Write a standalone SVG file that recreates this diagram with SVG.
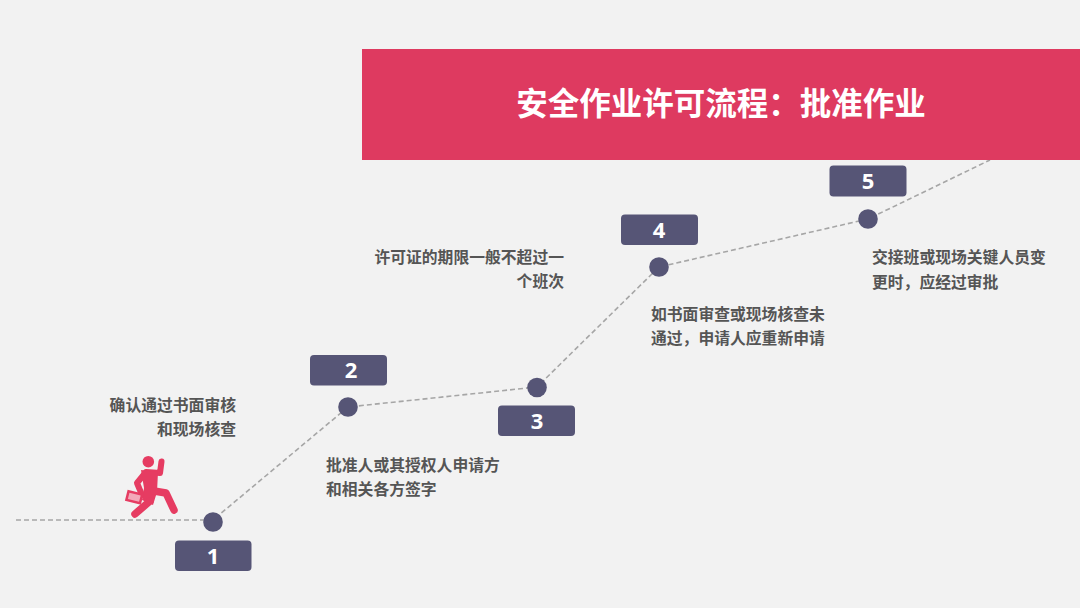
<svg xmlns="http://www.w3.org/2000/svg" width="1080" height="608" viewBox="0 0 1080 608">
<style>
.cn{font-family:"Noto Sans CJK SC","Noto Sans",sans-serif}
.b{fill:#565576}
.n{font-family:"Noto Sans",sans-serif;font-weight:700;font-size:22px;fill:#fff;text-anchor:middle}
.t{font-size:15.800px;font-weight:700;fill:#555}
.e{text-anchor:end}
.c{fill:none;stroke:#a6a6a6;stroke-width:1.6;stroke-dasharray:5 3}
.p{fill:none;stroke:#e63c62;stroke-linecap:round;stroke-linejoin:round}
</style>
<rect width="1080" height="608" fill="#f2f2f2"/>
<g id="connectors">
<polyline class="c" points="16,520 213,520 348,407 537,387 659,267 868,219 990,160"/>
</g>
<g id="banner">
<rect x="362" y="49" width="718" height="111" fill="#de3a60"/>
<text class="cn" x="721" y="115" font-size="31.500" font-weight="700" fill="#fff" text-anchor="middle">安全作业许可流程：批准作业</text>
</g>
<g id="runner">
<circle cx="148.300" cy="461.700" r="5.800" fill="#e63c62"/>
<path class="p" stroke-width="6" d="M161.500,461.500 L160,473 L146,472 L137,483 L142,495"/>
<path d="M141,470 L158,472 L157,492 L153,505 L142,500 L144,488Z" fill="#e63c62"/>
<path class="p" stroke-width="7.500" d="M150,501 L135,514 M154,491 L166,493 L174,510"/>
<rect x="126" y="491.500" width="16.500" height="11.500" transform="rotate(14 134.300 497.300)" fill="#e63c62"/>
<rect x="128.500" y="494" width="11.500" height="6.500" transform="rotate(14 134.300 497.300)" fill="#f3a9b9"/>
</g>
<g id="node1">
<circle class="b" cx="213" cy="522" r="9.800"/>
<rect class="b" x="175" y="540.500" width="76.500" height="30.500" rx="4"/>
<text class="n" x="213" y="563.500">1</text>
<text class="cn t e" x="236" y="411">确认通过书面审核</text>
<text class="cn t e" x="236" y="435">和现场核查</text>
</g>
<g id="node2">
<circle class="b" cx="348" cy="407" r="9.800"/>
<rect class="b" x="310" y="355" width="77" height="30.500" rx="4"/>
<text class="n" x="351" y="377.500">2</text>
<text class="cn t" x="326" y="471">批准人或其授权人申请方</text>
<text class="cn t" x="326" y="495">和相关各方签字</text>
</g>
<g id="node3">
<circle class="b" cx="537" cy="387.500" r="9.800"/>
<rect class="b" x="498" y="405.500" width="77" height="30.500" rx="4"/>
<text class="n" x="537" y="428.500">3</text>
<text class="cn t e" x="564" y="263">许可证的期限一般不超过一</text>
<text class="cn t e" x="564" y="287">个班次</text>
</g>
<g id="node4">
<circle class="b" cx="659" cy="267" r="9.800"/>
<rect class="b" x="621" y="214.500" width="77" height="30.500" rx="4"/>
<text class="n" x="659" y="237.500">4</text>
<text class="cn t" x="651" y="320">如书面审查或现场核查未</text>
<text class="cn t" x="651" y="344">通过，申请人应重新申请</text>
</g>
<g id="node5">
<circle class="b" cx="868" cy="219" r="9.800"/>
<rect class="b" x="829.500" y="165.500" width="77" height="31" rx="4"/>
<text class="n" x="868" y="188.500">5</text>
<text class="cn t" x="872" y="263">交接班或现场关键人员变</text>
<text class="cn t" x="872" y="288">更时，应经过审批</text>
</g>
</svg>
